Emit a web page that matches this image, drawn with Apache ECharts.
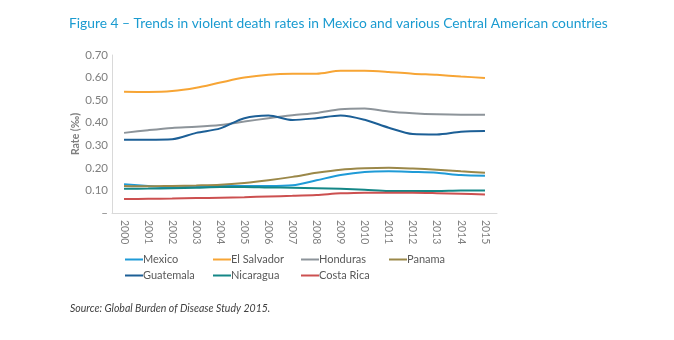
<!DOCTYPE html>
<html><head><meta charset="utf-8">
<script src="https://cdn.jsdelivr.net/npm/echarts@6/dist/echarts.min.js"></script>
<style>html,body{margin:0;padding:0;background:#fff}#c{width:674px;height:340px}</style>
</head><body><div id="c"></div>
<script>
const years = ['2000','2001','2002','2003','2004','2005','2006','2007','2008','2009','2010','2011','2012','2013','2014','2015'];
const mexico     = [0.127,0.120,0.113,0.118,0.120,0.120,0.120,0.123,0.145,0.168,0.182,0.185,0.182,0.178,0.168,0.165];
const elSalvador = [0.537,0.536,0.540,0.555,0.578,0.600,0.613,0.617,0.617,0.630,0.630,0.625,0.617,0.612,0.605,0.598];
const honduras   = [0.355,0.367,0.377,0.382,0.390,0.405,0.420,0.433,0.443,0.460,0.463,0.450,0.442,0.437,0.435,0.435];
const panama     = [0.120,0.118,0.120,0.122,0.125,0.133,0.145,0.160,0.178,0.192,0.198,0.200,0.197,0.192,0.185,0.178];
const guatemala  = [0.325,0.325,0.327,0.355,0.375,0.420,0.432,0.412,0.420,0.432,0.413,0.378,0.350,0.348,0.360,0.363];
const nicaragua  = [0.107,0.108,0.110,0.112,0.115,0.115,0.113,0.112,0.110,0.107,0.103,0.098,0.098,0.098,0.100,0.100];
const costaRica  = [0.062,0.063,0.064,0.066,0.068,0.070,0.073,0.076,0.080,0.087,0.090,0.090,0.090,0.088,0.085,0.082];
const names = ['Mexico','El Salvador','Honduras','Panama','Guatemala','Nicaragua','Costa Rica'];
const values = [mexico, elSalvador, honduras, panama, guatemala, nicaragua, costaRica];
const colors = ['#1f9bd7','#f7a535','#8d949a','#9b8849','#1c5f96','#148787','#cc5050'];
const legendCols = [['Mexico','Guatemala'],['El Salvador','Nicaragua'],['Honduras','Costa Rica'],['Panama']];
const legendLeft = [120, 208, 296, 384];

const chart = echarts.init(document.getElementById('c'));
chart.setOption({
  animation:false,
  textStyle:{fontFamily:'Lato'},
  title:{text:'Figure 4 – Trends in violent death rates in Mexico and various Central American countries',
    left:64, top:12, textStyle:{fontFamily:'Lato', fontSize:13.8, fontWeight:'normal', color:'#1a9bd0'}},
  graphic:[{type:'text', left:70, top:303, style:{text:'Source: Global Burden of Disease Study 2015.',
    font:'italic 10.5px Lato', fill:'#404040'}}],
  legend: legendCols.map((col,i)=>({orient:'vertical', left:legendLeft[i], top:249, itemGap:5,
    itemWidth:18, itemHeight:2, icon:'rect', data:col,
    textStyle:{fontSize:11, color:'#595959', padding:[0,0,0,-5]}})),
  grid:{left:112, right:177, top:55, bottom:127},
  xAxis:{type:'category', data:years, boundaryGap:true,
    axisLine:{lineStyle:{color:'#d9d9d9'}}, axisTick:{show:false},
    axisLabel:{rotate:-90, color:'#7f7f7f', fontSize:10.5, margin:7}},
  yAxis:{type:'value', min:0, max:0.7, interval:0.1,
    name:'Rate (‰)', nameLocation:'middle', nameGap:31, nameMoveOverlap:false,
    nameTextStyle:{color:'#7f7f7f', fontSize:10.5, fontWeight:'bold'},
    axisLine:{show:true, lineStyle:{color:'#d9d9d9'}}, axisTick:{show:false}, splitLine:{show:false},
    axisLabel:{color:'#7f7f7f', fontSize:11.5, margin:4,
      formatter:v=> v===0 ? '–' : v.toFixed(2)}},
  series: names.map((n,i)=>({name:n, type:'line', data:values[i], smooth:0.3, symbol:'none',
    lineStyle:{width:2, color:colors[i]}, itemStyle:{color:colors[i]}}))
});
</script></body></html>
